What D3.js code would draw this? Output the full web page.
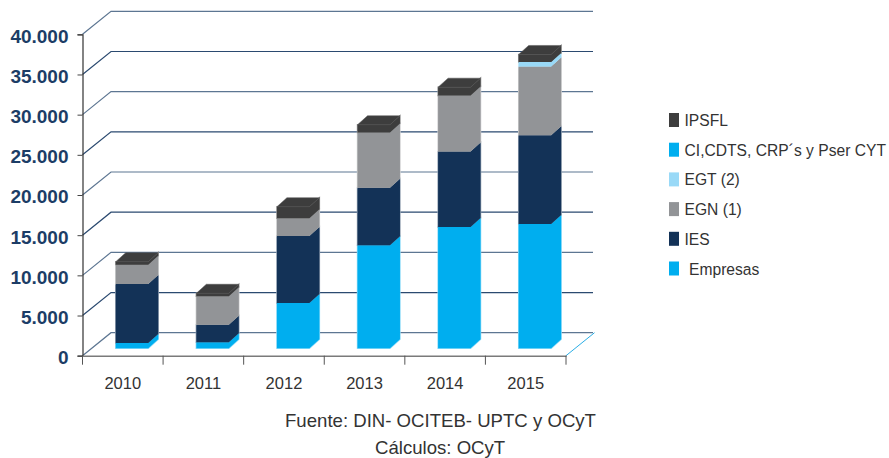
<!DOCTYPE html>
<html>
<head>
<meta charset="utf-8">
<script src="https://cdn.jsdelivr.net/npm/d3@7"></script>
<style>
  html, body { margin: 0; padding: 0; background: #fff; }
  svg { display: block; }
  text { font-family: "Liberation Sans", Arial, sans-serif; }
</style>
</head>
<body>
<div id="chart"></div>
<script>
// data
var years = ["2010", "2011", "2012", "2013", "2014", "2015"];
var empresas = [660, 750, 5640, 12830, 15100, 15480];
var ies = [7350, 2170, 8340, 7140, 9380, 11050];
var egn = [2400, 3560, 2200, 6890, 6970, 8540];
var egt = [0, 0, 0, 0, 0, 550];
var ci = [0, 0, 0, 0, 0, 0];
var ipsfl = [370, 370, 1440, 960, 1050, 950];
var yTicks = [0, 5000, 10000, 15000, 20000, 25000, 30000, 35000, 40000];
var seriesColors = ["#00aeef", "#133257", "#929497", "#99d9f7", "#00aeef", "#3d3d3d"];
var legendNames = ["IPSFL", "CI,CDTS, CRP´s y Pser CYT", "EGT (2)", "EGN (1)", "IES", " Empresas"];
var legendColors = ["#3d3d3d", "#00aeef", "#99d9f7", "#929497", "#133257", "#00aeef"];

var width = 889, height = 458;
var wallX = 28.5, wallY = 23;   // back wall offset
var depthX = 10, depthY = 9;    // bar depth
var barShiftX = 9.2, barShiftY = 7.4;

var svg = d3.select("#chart").append("svg")
    .attr("width", width)
    .attr("height", height);

var x = d3.scaleBand().domain(years).range([82.5, 566]).paddingInner(0.597).paddingOuter(0.2985);
var y = d3.scaleLinear().domain([0, 40000]).range([355.7, 34.3]);

// gridlines, side wall and back wall
var grid = svg.append("g");
grid.selectAll("path")
    .data(yTicks)
    .enter().append("path")
    .attr("fill", "none")
    .attr("stroke", function(d, i) { return i % 2 ? "#2b4a70" : "#5d7692"; })
    .attr("stroke-width", 1.2)
    .attr("d", function(d) {
      var p = d3.path();
      p.moveTo(82.5, y(d));
      p.lineTo(82.5 + wallX, y(d) - wallY);
      p.lineTo(593, y(d) - wallY);
      return p.toString();
    });

// floor edge on the right
svg.append("line")
    .attr("x1", 566).attr("y1", y(0))
    .attr("x2", 566 + wallX).attr("y2", y(0) - wallY)
    .attr("stroke", "#2aaee6")
    .attr("stroke-width", 1);

// stacked bars
var rows = years.map(function(yr, i) {
  return { year: yr, s0: empresas[i], s1: ies[i], s2: egn[i], s3: egt[i], s4: ci[i], s5: ipsfl[i] };
});
var stacked = d3.stack().keys(["s0", "s1", "s2", "s3", "s4", "s5"])(rows);

// outline of front plus side of one segment
function segmentPoints(d) {
  var x0 = x(d.data.year) + barShiftX, x1 = x0 + x.bandwidth();
  var y0 = y(d[0]) - barShiftY, y1 = y(d[1]) - barShiftY;
  return [[x0, y0], [x0, y1], [x1, y1], [x1 + depthX, y1 - depthY], [x1 + depthX, y0 - depthY], [x1, y0]].join(" ");
}

// pale halo first, the fills go over it
var halo = svg.append("g");
var bars = svg.append("g");
stacked.forEach(function(layer, k) {
  var drawn = layer.filter(function(d) { return d[1] - d[0] > 0; });
  halo.selectAll(null)
      .data(drawn)
      .enter().append("polygon")
      .attr("points", segmentPoints)
      .attr("fill", "none")
      .attr("stroke", d3.interpolateRgb(seriesColors[k], "#fff")(k == 5 ? 0.45 : 0.55))
      .attr("stroke-width", 1.4);
  bars.selectAll(null)
      .data(drawn)
      .enter().append("polygon")
      .attr("points", segmentPoints)
      .attr("fill", seriesColors[k]);
  if (k == 5) {
    // top of the bar
    bars.selectAll(null)
        .data(drawn)
        .enter().append("polygon")
        .attr("points", function(d) {
          var x0 = x(d.data.year) + barShiftX, x1 = x0 + x.bandwidth();
          var y1 = y(d[1]) - barShiftY;
          return [[x0, y1], [x0 + depthX, y1 - depthY], [x1 + depthX, y1 - depthY], [x1, y1]].join(" ");
        })
        .attr("fill", seriesColors[k])
        .attr("stroke", "#555")
        .attr("stroke-width", 0.5);
  }
});

// axes
var yAxis = d3.axisLeft(y)
    .tickValues(yTicks)
    .tickSize(5)
    .tickPadding(9)
    .tickFormat(function(d) { return d3.format(",")(d).replace(/,/g, "."); });
var yG = svg.append("g").attr("transform", "translate(82.5,0)").call(yAxis);
yG.select(".domain").attr("stroke", "#333").attr("stroke-width", 1.2);
yG.selectAll(".tick line").attr("stroke", "#444");
yG.selectAll("text")
    .attr("dy", "0.42em")
    .attr("fill", "#1c3d66")
    .style("font-family", '"Liberation Sans", Arial, sans-serif')
    .style("font-size", "19px")
    .style("font-weight", "bold");

var xG = svg.append("g").attr("transform", "translate(0," + y(0) + ")")
    .call(d3.axisBottom(x).tickSize(0).tickPadding(22));
xG.select(".domain").attr("stroke", "#7a7a7a").attr("stroke-width", 1.6);
xG.selectAll("text")
    .attr("fill", "#333")
    .style("font-family", '"Liberation Sans", Arial, sans-serif')
    .style("font-size", "16.5px");

// tick marks sit on the band edges
var edges = years.map(function(yr) { return x(yr) - x.step() * x.paddingInner() / 2; });
edges.push(566);
svg.append("g").selectAll("line")
    .data(edges)
    .enter().append("line")
    .attr("x1", function(d) { return d; })
    .attr("x2", function(d) { return d; })
    .attr("y1", y(0))
    .attr("y2", y(0) + 9)
    .attr("stroke", "#555")
    .attr("stroke-width", 1);

// legend
var legend = svg.append("g").selectAll("g")
    .data(legendNames)
    .enter().append("g")
    .attr("transform", function(d, i) { return "translate(669," + (120 + i * 29.7) + ")"; });
legend.append("rect")
    .attr("y", -7)
    .attr("width", 10)
    .attr("height", 14)
    .attr("fill", function(d, i) { return legendColors[i]; });
legend.append("text")
    .attr("transform", function(d) { return "translate(" + (d[0] == " " ? 20 : 15.5) + ",6) scale(0.92,1)"; })
    .attr("fill", "#333")
    .style("font-size", "17px")
    .text(function(d) { return d.trim(); });

// source notes
svg.append("text")
    .attr("x", 285).attr("y", 427)
    .attr("fill", "#333")
    .style("font-size", "18.6px")
    .text("Fuente: DIN- OCITEB- UPTC y OCyT");
svg.append("text")
    .attr("x", 375).attr("y", 454)
    .attr("fill", "#333")
    .style("font-size", "18.6px")
    .text("Cálculos: OCyT");
</script>
</body>
</html>
